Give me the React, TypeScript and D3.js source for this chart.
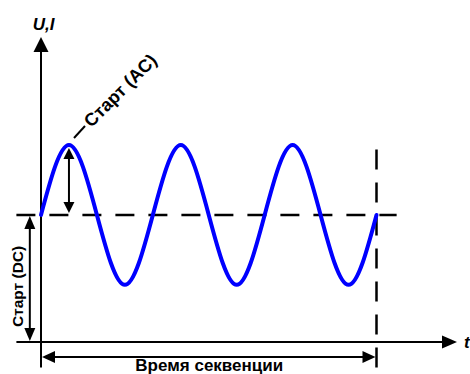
import React from 'react';
import * as d3 from 'd3';

// Schematic data (time in periods, level in units where DC start = 1)
const waveT = [0, 0.25, 0.5, 0.75, 1, 1.25, 1.5, 1.75, 2, 2.25, 2.5, 2.75, 3];
const waveV = [1, 1.55, 1, 0.45, 1, 1.55, 1, 0.45, 1, 1.55, 1, 0.45, 1];
const dcLevel = 1;
const acPeakT = 0.25;
const acPeakV = 1.55;
const seqEnd = 3;
const xAxisRange = [-0.22, 3.72];
const yAxisRange = [-0.2, 2.4];
const dashedRange = [-0.22, 3.18];
const seqLineTop = 1.55;

const yLabel = 'U,I';
const xLabel = 't';
const acLabel = 'Старт (AC)';
const dcLabel = 'Старт (DC)';
const seqLabel = 'Время секвенции';

const W = 470;
const H = 374;
const FONT = "'Liberation Sans', Arial, sans-serif";

function arrowHead(tipX: number, tipY: number, dx: number, dy: number, len: number, half: number) {
  const bx = tipX - dx * len;
  const by = tipY - dy * len;
  const px = -dy, py = dx;
  return `${tipX},${tipY} ${bx + px * half},${by + py * half} ${bx - px * half},${by - py * half}`;
}

export default function App() {
  const x = d3.scaleLinear().domain([0, 3]).range([41, 376.5]);
  const y = d3.scaleLinear().domain([0, 2.4]).range([342, 37]);

  const pts: [number, number][] = waveT.map((t, i) => [x(t), y(waveV[i])]);
  const line = d3.line<[number, number]>().x(d => d[0]).y(d => d[1]).curve(d3.curveNatural);

  const x0 = x(0), y0 = y(0);
  const yDC = y(dcLevel);
  const xEnd = x(seqEnd);

  const acX = x(acPeakT);
  const acTop = y(acPeakV) + 3;
  const acBot = yDC - 2;
  const dcX = x(-0.1);
  const seqY = 357;

  return (
    <svg width={W} height={H} style={{ position: 'absolute', left: 0, top: 0, background: '#fff' }}
      fontFamily={FONT}>
      <rect x={0} y={0} width={W} height={H} fill="#fff" />
      {/* axes */}
      <line x1={x(xAxisRange[0])} y1={y0} x2={x(xAxisRange[1]) - 10} y2={y0} stroke="#000" strokeWidth={2} />
      <polygon points={arrowHead(x(xAxisRange[1]), y0, 1, 0, 15, 6.5)} fill="#000" />
      <line x1={x0} y1={y(yAxisRange[0])} x2={x0} y2={y(yAxisRange[1]) + 10} stroke="#000" strokeWidth={2} />
      <polygon points={arrowHead(x0, y(yAxisRange[1]), 0, -1, 15, 7.5)} fill="#000" />

      {/* dashed DC level */}
      <line x1={x(dashedRange[0])} y1={yDC} x2={x(dashedRange[1])} y2={yDC} stroke="#000" strokeWidth={2.5}
        strokeDasharray="19,14" />
      {/* end of sequence dashed vertical */}
      <line x1={xEnd} y1={y(yAxisRange[0])} x2={xEnd} y2={y(seqLineTop)} stroke="#000" strokeWidth={2.5}
        strokeDasharray="20,13" />

      {/* wave */}
      <path d={line(pts) || ''} fill="none" stroke="#0000ff" strokeWidth={4} strokeLinecap="round" />

      {/* AC arrow */}
      <line x1={acX} y1={acTop + 8} x2={acX} y2={acBot - 8} stroke="#000" strokeWidth={2} />
      <polygon points={arrowHead(acX, acTop, 0, -1, 11, 5.5)} fill="#000" />
      <polygon points={arrowHead(acX, acBot, 0, 1, 11, 5.5)} fill="#000" />

      {/* DC arrow */}
      <line x1={dcX} y1={yDC + 10} x2={dcX} y2={y0 - 10} stroke="#000" strokeWidth={2} />
      <polygon points={arrowHead(dcX, yDC + 1, 0, -1, 13, 5.5)} fill="#000" />
      <polygon points={arrowHead(dcX, y0 - 1, 0, 1, 13, 5.5)} fill="#000" />

      {/* sequence arrow */}
      <line x1={x0 + 10} y1={seqY} x2={xEnd - 10} y2={seqY} stroke="#000" strokeWidth={2} />
      <polygon points={arrowHead(x0 + 1, seqY, -1, 0, 13, 6)} fill="#000" />
      <polygon points={arrowHead(xEnd - 1, seqY, 1, 0, 13, 6)} fill="#000" />

      {/* AC leader + label */}
      <line x1={74} y1={138} x2={85} y2={126} stroke="#000" strokeWidth={2} />
      <text transform="translate(87,124) rotate(-45)" fontSize={18} fontWeight="bold" dominantBaseline="central">
        {acLabel}
      </text>

      {/* DC label */}
      <text transform={`translate(17,${(yDC + y0) / 2 + 8}) rotate(-90)`} fontSize={15.5} fontWeight="bold"
        textAnchor="middle" dominantBaseline="central">{dcLabel}</text>

      {/* sequence label */}
      <text x={(x0 + xEnd) / 2 + 0.5} y={371} fontSize={17} fontWeight="bold" textAnchor="middle">{seqLabel}</text>

      {/* axis labels */}
      <text x={43.5} y={30} fontSize={17} fontWeight="bold" fontStyle="italic" textAnchor="middle">{yLabel}</text>
      <text x={464} y={348} fontSize={17} fontWeight="bold" fontStyle="italic">{xLabel}</text>
    </svg>
  );
}
